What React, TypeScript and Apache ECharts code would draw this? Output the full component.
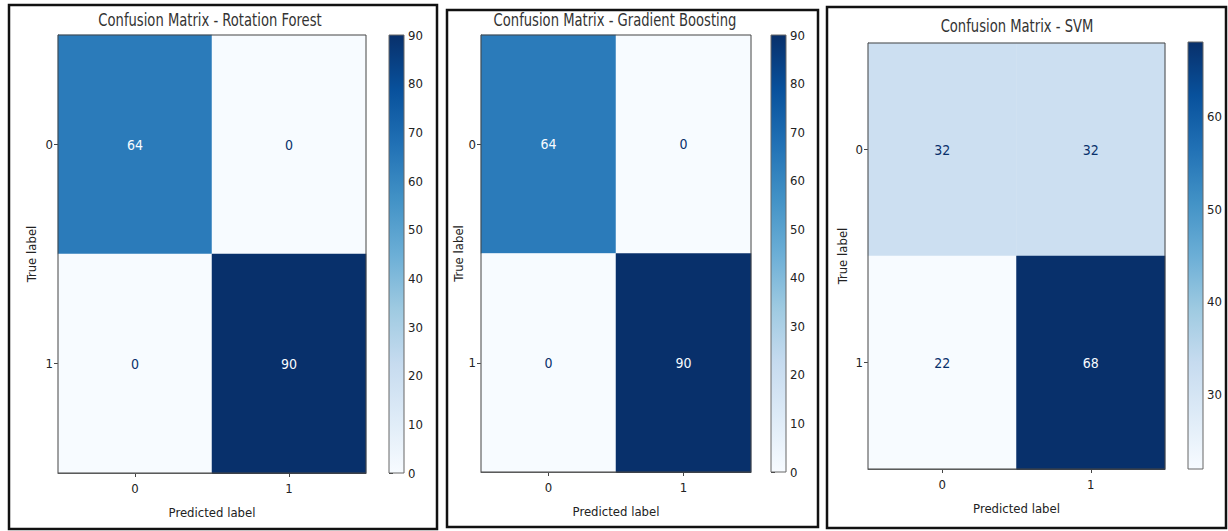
import React, { useEffect, useRef } from "react";
import * as echarts from "echarts";

// ---- data ----
const CLASSES = ["0", "1"];
const TITLES = [
  "Confusion Matrix - Rotation Forest",
  "Confusion Matrix - Gradient Boosting",
  "Confusion Matrix - SVM",
];
const RF_MATRIX = [
  [64, 0],
  [0, 90],
];
const GB_MATRIX = [
  [64, 0],
  [0, 90],
];
const SVM_MATRIX = [
  [32, 32],
  [22, 68],
];
const RF_TICKS = [0, 10, 20, 30, 40, 50, 60, 70, 80, 90];
const GB_TICKS = [0, 10, 20, 30, 40, 50, 60, 70, 80, 90];
const SVM_TICKS = [30, 40, 50, 60];
const X_NAME = "Predicted label";
const Y_NAME = "True label";

const BLUES = [
  "#f7fbff",
  "#deebf7",
  "#c6dbef",
  "#9ecae1",
  "#6baed6",
  "#4292c6",
  "#2171b5",
  "#08519c",
  "#08306b",
];

const FONT = '"DejaVu Sans Condensed", "Liberation Sans Narrow", "DejaVu Sans", sans-serif';

// ---- layout ----
const LAYOUT = [
  {
    frame: { x: 9, y: 5, w: 428, h: 524 },
    grid: { left: 58, top: 35, width: 308, height: 438 },
    cb: { left: 389, top: 35, width: 15, height: 438 },
    title: { x: 210, y: 20 },
    yNameGap: 20,
  },
  {
    frame: { x: 447, y: 10, w: 371, h: 517 },
    grid: { left: 481, top: 35, width: 270, height: 437 },
    cb: { left: 771, top: 35, width: 15, height: 437 },
    title: { x: 615, y: 20 },
    yNameGap: 16,
  },
  {
    frame: { x: 827, y: 7, w: 399, h: 521 },
    grid: { left: 868, top: 43, width: 297, height: 426 },
    cb: { left: 1188, top: 42, width: 15, height: 427 },
    title: { x: 1017, y: 26 },
    yNameGap: 19,
  },
];

const MATRICES = [RF_MATRIX, GB_MATRIX, SVM_MATRIX];
const TICKS = [RF_TICKS, GB_TICKS, SVM_TICKS];

function buildOption() {
  const grids: any[] = [];
  const xAxes: any[] = [];
  const yAxes: any[] = [];
  const heatSeries: any[] = [];
  const cbSeries: any[] = [];
  const visualMaps: any[] = [];
  const graphics: any[] = [];

  MATRICES.forEach((m, i) => {
    const L = LAYOUT[i];
    const flat = m.flat();
    const vmin = Math.min(...flat);
    const vmax = Math.max(...flat);
    const thr = (vmin + vmax) / 2;

    // heatmap grid
    grids.push({
      ...L.grid,
      show: true,
      z: 10,
      backgroundColor: "transparent",
      borderColor: "#444",
      borderWidth: 1,
    });
    const hg = grids.length - 1;
    xAxes.push({
      type: "category",
      gridIndex: hg,
      data: CLASSES,
      position: "bottom",
      name: X_NAME,
      nameLocation: "middle",
      nameGap: 33,
      nameTextStyle: { fontSize: 13, color: "#222", fontFamily: FONT },
      axisLine: { show: true, lineStyle: { color: "#444", width: 1 } },
      axisTick: { show: true, alignWithLabel: true, length: 4, lineStyle: { color: "#444" } },
      axisLabel: { fontSize: 13, color: "#222", margin: 9, fontFamily: FONT },
      splitLine: { show: false },
    });
    yAxes.push({
      type: "category",
      gridIndex: hg,
      data: CLASSES,
      inverse: true,
      name: Y_NAME,
      nameLocation: "middle",
      nameRotate: 90,
      nameGap: L.yNameGap,
      nameTextStyle: { fontSize: 13, color: "#222", fontFamily: FONT },
      axisLine: { show: true, lineStyle: { color: "#444", width: 1 } },
      axisTick: { show: true, alignWithLabel: true, length: 4, lineStyle: { color: "#444" } },
      axisLabel: { fontSize: 13, color: "#222", margin: 5, fontFamily: FONT },
      splitLine: { show: false },
    });
    const data: any[] = [];
    m.forEach((row, t) => {
      row.forEach((v, p) => {
        data.push({
          value: [p, t, v],
          label: { color: v < thr ? BLUES[8] : BLUES[0] },
        });
      });
    });
    heatSeries.push({
      type: "heatmap",
      xAxisIndex: xAxes.length - 1,
      yAxisIndex: yAxes.length - 1,
      data,
      label: {
        show: true,
        fontSize: 14,
        fontFamily: FONT,
        formatter: (p: any) => String(p.value[2]),
      },
      itemStyle: { borderWidth: 0 },
      emphasis: { disabled: true },
    });
    visualMaps.push({
      type: "continuous",
      show: false,
      min: vmin,
      max: vmax,
      dimension: 2,
      seriesIndex: i,
      inRange: { color: BLUES },
    });

    // colorbar grid
    grids.push({ ...L.cb, show: false });
    const cg = grids.length - 1;
    xAxes.push({ type: "value", gridIndex: cg, min: 0, max: 1, show: false });
    yAxes.push({
      type: "value",
      gridIndex: cg,
      min: vmin,
      max: vmax,
      position: "right",
      axisLine: { show: false },
      splitLine: { show: false },
      axisTick: {
        show: true,
        length: 4,
        lineStyle: { color: "#333" },
        customValues: TICKS[i],
      },
      axisLabel: {
        fontSize: 13,
        color: "#222",
        margin: 4,
        fontFamily: FONT,
        customValues: TICKS[i],
      },
    });
    cbSeries.push({
      type: "custom",
      xAxisIndex: xAxes.length - 1,
      yAxisIndex: yAxes.length - 1,
      data: [[0, vmin, vmax]],
      clip: false,
      silent: true,
      renderItem: (_params: any, api: any) => {
        const lo = api.value(1);
        const hi = api.value(2);
        const p0 = api.coord([0, hi]);
        const p1 = api.coord([1, lo]);
        return {
          type: "rect",
          shape: { x: p0[0], y: p0[1], width: p1[0] - p0[0], height: p1[1] - p0[1] },
          style: {
            fill: new echarts.graphic.LinearGradient(
              0,
              1,
              0,
              0,
              BLUES.map((c, k) => ({ offset: k / (BLUES.length - 1), color: c }))
            ),
            stroke: "#666",
            lineWidth: 1,
          },
        };
      },
    });

    // frame and title
    graphics.push({
      type: "rect",
      shape: { x: L.frame.x, y: L.frame.y, width: L.frame.w, height: L.frame.h },
      style: { fill: "none", stroke: "#111", lineWidth: 2.5 },
      z: 100,
      silent: true,
    });
    graphics.push({
      type: "text",
      x: L.title.x,
      y: L.title.y,
      scaleX: 0.86,
      style: {
        text: TITLES[i],
        fontSize: 17,
        fontFamily: FONT,
        fill: "#333",
        textAlign: "center",
        textVerticalAlign: "middle",
      },
      z: 100,
    });
  });

  return {
    animation: false,
    backgroundColor: "#ffffff",
    textStyle: { fontFamily: FONT },
    grid: grids,
    xAxis: xAxes,
    yAxis: yAxes,
    visualMap: visualMaps,
    series: [...heatSeries, ...cbSeries],
    graphic: graphics,
  };
}

export default function App() {
  const ref = useRef<HTMLDivElement>(null);
  useEffect(() => {
    if (!ref.current) return;
    const chart = echarts.init(ref.current, undefined, { renderer: "svg" });
    chart.setOption(buildOption() as any);
    return () => chart.dispose();
  }, []);
  return (
    <div
      ref={ref}
      style={{ position: "fixed", left: 0, top: 0, width: 1228, height: 531, background: "#fff" }}
    />
  );
}
